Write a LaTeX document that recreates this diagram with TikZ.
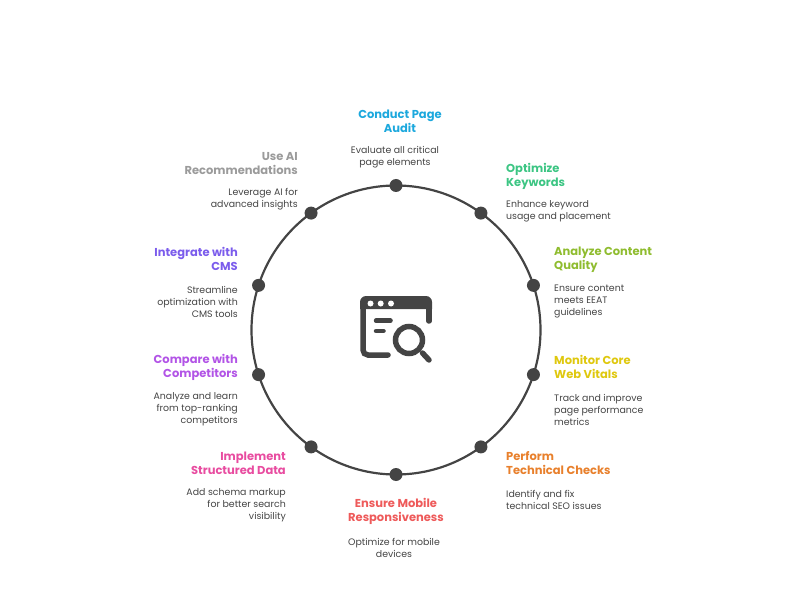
\documentclass[tikz,border=0pt]{standalone}
\usepackage{fontspec}
\setmainfont{Poppins}
\definecolor{inkgray}{HTML}{444444}
\definecolor{auditblue}{HTML}{1CA8DD}
\definecolor{keygreen}{HTML}{3CC583}
\definecolor{qualitylime}{HTML}{8FBC2F}
\definecolor{vitalyellow}{HTML}{DFC80F}
\definecolor{checkorange}{HTML}{E8802C}
\definecolor{mobilered}{HTML}{EE5A5A}
\definecolor{schemapink}{HTML}{E84CA0}
\definecolor{rivalpurple}{HTML}{B254E6}
\definecolor{cmsindigo}{HTML}{7B5CEC}
\definecolor{aigray}{HTML}{9B9B9B}
\tikzset{
  dot/.style={circle, fill=inkgray, inner sep=0pt, minimum size=13pt},
  headtext/.style={inner sep=0pt, font=\fontsize{11.5}{14}\selectfont\bfseries},
  bodytext/.style={inner sep=0pt, text=inkgray, font=\fontsize{9.4}{12}\selectfont},
  iconline/.style={draw=inkgray, line width=5.5pt, line cap=round}
}
\begin{document}
\begin{tikzpicture}[x=1pt, y=-1pt]
  \useasboundingbox (0,0) rectangle (792,612);

  % Ring and dots
  \node[circle, draw=inkgray, line width=2.2pt, outer sep=0pt, inner sep=0pt, minimum size=289pt] (ring) at (396,330) {};
  \node[dot] (d1) at (ring.90) {};
  \node[dot] (d2) at (ring.54) {};
  \node[dot] (d3) at (ring.18) {};
  \node[dot] (d4) at (ring.-18) {};
  \node[dot] (d5) at (ring.-54) {};
  \node[dot] (d6) at (ring.-90) {};
  \node[dot] (d7) at (ring.-126) {};
  \node[dot] (d8) at (ring.-162) {};
  \node[dot] (d9) at (ring.162) {};
  \node[dot] (d10) at (ring.126) {};

  % Titles and descriptions
  \node[headtext, text=auditblue, align=center] (h1) at (400,121) {Conduct Page\\Audit};
  \node[bodytext, align=center] (t1) at (395,157.5) {Evaluate all critical\\page elements};

  \node[headtext, text=keygreen, align=left, anchor=west] (h2) at (506,176) {Optimize\\Keywords};
  \node[bodytext, align=left, anchor=west] (t2) at (506,211.5) {Enhance keyword\\usage and placement};

  \node[headtext, text=qualitylime, align=left, anchor=west] (h3) at (554,260) {Analyze Content\\Quality};
  \node[bodytext, align=left, anchor=west] (t3) at (554,301.5) {Ensure content\\meets EEAT\\guidelines};

  \node[headtext, text=vitalyellow, align=left, anchor=west] (h4) at (554,367) {Monitor Core\\Web Vitals};
  \node[bodytext, align=left, anchor=west] (t4) at (554,409.5) {Track and improve\\page performance\\metrics};

  \node[headtext, text=checkorange, align=left, anchor=west] (h5) at (506,463) {Perform\\Technical Checks};
  \node[bodytext, align=left, anchor=west] (t5) at (506,499.5) {Identify and fix\\technical SEO issues};

  \node[headtext, text=mobilered, align=center] (h6) at (396,511.5) {Ensure Mobile\\Responsiveness};
  \node[bodytext, align=center] (t6) at (394,547.5) {Optimize for mobile\\devices};

  \node[headtext, text=schemapink, align=right, anchor=east] (h7) at (286,463) {Implement\\Structured Data};
  \node[bodytext, align=right, anchor=east] (t7) at (286,505.5) {Add schema markup\\for better search\\visibility};

  \node[headtext, text=rivalpurple, align=right, anchor=east] (h8) at (238,367) {Compare with\\Competitors};
  \node[bodytext, align=right, anchor=east] (t8) at (238,409.5) {Analyze and learn\\from top-ranking\\competitors};

  \node[headtext, text=cmsindigo, align=right, anchor=east] (h9) at (238,259) {Integrate with\\CMS};
  \node[bodytext, align=right, anchor=east] (t9) at (238,301.5) {Streamline\\optimization with\\CMS tools};

  \node[headtext, text=aigray, align=right, anchor=east] (h10) at (298,164) {Use AI\\Recommendations};
  \node[bodytext, align=right, anchor=east] (t10) at (298,199.5) {Leverage AI for\\advanced insights};

  % Icon in the middle
  \fill[inkgray] (360,309) [rounded corners=6pt] -- (360,296) -- (432,296) [sharp corners] -- (432,309) -- cycle;
  \draw[iconline, rounded corners=5pt] (388,355) -- (363,355) -- (363,305);
  \draw[iconline] (429,305) -- (429,321);
  \fill[white] (370.5,303.5) circle (3pt) (380.7,303.5) circle (3pt) (391,303.5) circle (3pt);
  \draw[inkgray, line width=4.5pt, line cap=round] (376,320.7) -- (390.5,320.7) (376,331) -- (383.5,331);
  \draw[iconline] (409,340) circle (13.5pt);
  \draw[iconline] (422.5,353) -- (429,360);
\end{tikzpicture}
\end{document}
